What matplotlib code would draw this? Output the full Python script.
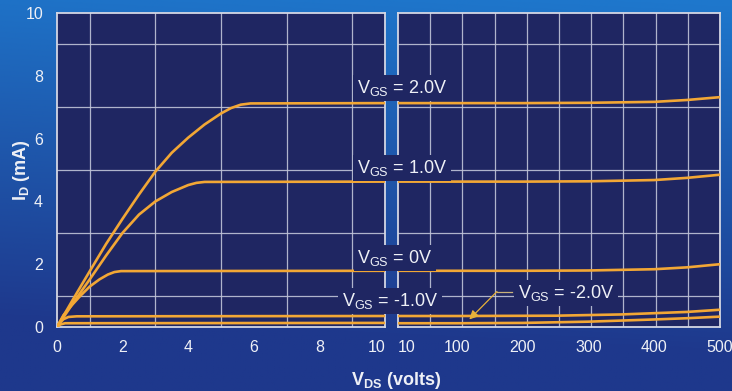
import numpy as np
import matplotlib
matplotlib.use("Agg")
import matplotlib.pyplot as plt

plt.rcParams['font.family'] = ['Liberation Sans', 'DejaVu Sans']
plt.rcParams['mathtext.default'] = 'regular'

# ---------------- data ----------------
vgs_labels = ["2.0V", "1.0V", "0V", "-1.0V", "-2.0V"]

# low range: VDS 0..10 V
vds_lo_2p0 = [0, 0.5, 1.0, 1.5, 2.0, 2.5, 3.0, 3.5, 4.0, 4.5, 5.0, 5.3, 5.6, 5.9, 10]
id_lo_2p0 = [0, 0.90, 1.78, 2.65, 3.45, 4.22, 4.95, 5.55, 6.03, 6.45, 6.80, 6.97, 7.08, 7.12, 7.13]

vds_lo_1p0 = [0, 0.5, 1.0, 1.5, 2.0, 2.5, 3.0, 3.5, 4.0, 4.25, 4.5, 10]
id_lo_1p0 = [0, 0.78, 1.52, 2.28, 3.00, 3.58, 4.00, 4.30, 4.52, 4.59, 4.62, 4.63]

vds_lo_0 = [0, 0.2, 0.43, 0.7, 1.0, 1.3, 1.55, 1.75, 1.95, 10]
id_lo_0 = [0, 0.38, 0.67, 0.98, 1.29, 1.52, 1.67, 1.75, 1.78, 1.79]

vds_lo_m1 = [0, 0.1, 0.2, 0.35, 0.6, 10]
id_lo_m1 = [0, 0.15, 0.25, 0.32, 0.34, 0.35]

vds_lo_m2 = [0, 0.1, 0.25, 10]
id_lo_m2 = [0, 0.08, 0.12, 0.13]

# high range: VDS 10..500 V
vds_hi_2p0 = [10, 100, 200, 300, 400, 450, 500]
id_hi_2p0 = [7.13, 7.13, 7.13, 7.14, 7.17, 7.23, 7.32]

vds_hi_1p0 = [10, 100, 200, 300, 400, 450, 500]
id_hi_1p0 = [4.63, 4.63, 4.63, 4.64, 4.68, 4.75, 4.85]

vds_hi_0 = [10, 100, 200, 300, 400, 450, 500]
id_hi_0 = [1.79, 1.79, 1.79, 1.80, 1.84, 1.90, 2.00]

vds_hi_m1 = [10, 100, 250, 350, 450, 500]
id_hi_m1 = [0.35, 0.35, 0.36, 0.40, 0.48, 0.55]

vds_hi_m2 = [10, 100, 200, 300, 400, 450, 500]
id_hi_m2 = [0.12, 0.12, 0.13, 0.17, 0.24, 0.28, 0.33]

lo_x_ticks = [0, 2, 4, 6, 8, 10]
hi_x_ticks = [10, 100, 200, 300, 400, 500]
y_ticks = [0, 2, 4, 6, 8, 10]

# ---------------- style ----------------
W, H = 732, 391
face = '#1f2662'
curve = '#f2a735'
gridc = '#c0c4d8'
textc = '#eef0f6'
spinec = '#d4d7e4'

fig = plt.figure(figsize=(W / 100, H / 100), dpi=100)

# gradient background
bg = fig.add_axes([0, 0, 1, 1], zorder=-10)
ny, nx = 200, 300
yy, xx = np.mgrid[0:1:ny * 1j, 0:1:nx * 1j]
top = np.array([30, 120, 205]) / 255
bot = np.array([30, 56, 140]) / 255
t = np.clip(yy * 1.1 + 0.1 * (1 - xx), 0, 1)[..., None]
img = top * (1 - t) + bot * t
bg.imshow(img, aspect='auto', extent=[0, 1, 0, 1], origin='upper')
bg.set_axis_off()

axL = fig.add_axes([57 / W, 64 / H, 328 / W, 314 / H])
axR = fig.add_axes([398 / W, 64 / H, 322 / W, 314 / H])

lo_series = [(vds_lo_2p0, id_lo_2p0), (vds_lo_1p0, id_lo_1p0), (vds_lo_0, id_lo_0),
             (vds_lo_m1, id_lo_m1), (vds_lo_m2, id_lo_m2)]
hi_series = [(vds_hi_2p0, id_hi_2p0), (vds_hi_1p0, id_hi_1p0), (vds_hi_0, id_hi_0),
             (vds_hi_m1, id_hi_m1), (vds_hi_m2, id_hi_m2)]

for x, y in lo_series:
    axL.plot(x, y, color=curve, lw=1.9, solid_capstyle='round',
             solid_joinstyle='round', zorder=3)
for x, y in hi_series:
    axR.plot(x, y, color=curve, lw=1.9, solid_capstyle='round',
             solid_joinstyle='round', zorder=3)

for ax in (axL, axR):
    ax.set_facecolor(face)
    ax.set_ylim(0, 10)
    ax.set_yticks(y_ticks)
    ax.set_yticks(np.arange(0, 11, 1), minor=True)
    ax.grid(which='minor', color=gridc, lw=0.9, alpha=0.9)
    ax.grid(which='major', visible=False)
    ax.set_axisbelow(True)
    ax.tick_params(which='both', length=0, labelcolor=textc, labelsize=11.5)
    for s in ax.spines.values():
        s.set_color(spinec)
        s.set_linewidth(1.3)

axL.set_xlim(0, 10)
axL.set_xticks(lo_x_ticks, [str(v) for v in lo_x_ticks])
axL.set_xticks(np.arange(0, 11, 1), minor=True)
axL.tick_params(axis='x', pad=9)
axL.tick_params(axis='y', pad=10)
axL.get_xticklabels()[-1].set_horizontalalignment('right')

axR.set_xlim(10, 500)
axR.set_xticks(hi_x_ticks, [str(v) for v in hi_x_ticks])
axR.set_xticks(np.linspace(10, 500, 11), minor=True)
axR.tick_params(axis='x', pad=9)
axR.tick_params(axis='y', labelleft=False)
axR.get_xticklabels()[0].set_horizontalalignment('left')

# axis labels
fig.text(22 / W, 1 - 170 / H, r'$I_D$ (mA)', rotation=90, ha='center', va='center',
         color=textc, fontsize=13, fontweight='bold')
fig.text(396 / W, 1 - 385 / H, r'$V_{DS}$ (volts)', ha='center', va='baseline',
         color=textc, fontsize=13, fontweight='bold')

# curve labels (centre x px, baseline y px)
label_pos = [(402, 93), (402, 173), (395, 263), (390, 306), (566, 298)]
for lab, (px, py) in zip(vgs_labels, label_pos):
    fig.text(px / W, 1 - py / H, r'$V_{GS}$ = ' + lab, ha='center', va='baseline',
             color=textc, fontsize=13,
             bbox=dict(facecolor=face, edgecolor='none', pad=2.5), zorder=5)

# leader line + arrow for the -2.0V label
axR.plot([183, 160.6], [1.13, 1.13], color='#c9b27a', lw=0.9, zorder=6, clip_on=False)
axR.annotate('', xy=(118.5, 0.24), xytext=(160.6, 1.13),
             arrowprops=dict(arrowstyle='-|>', color='#e8b23a', lw=0.9,
                             mutation_scale=13, shrinkA=0, shrinkB=0), zorder=6)

fig.savefig('out.png', dpi=100)
